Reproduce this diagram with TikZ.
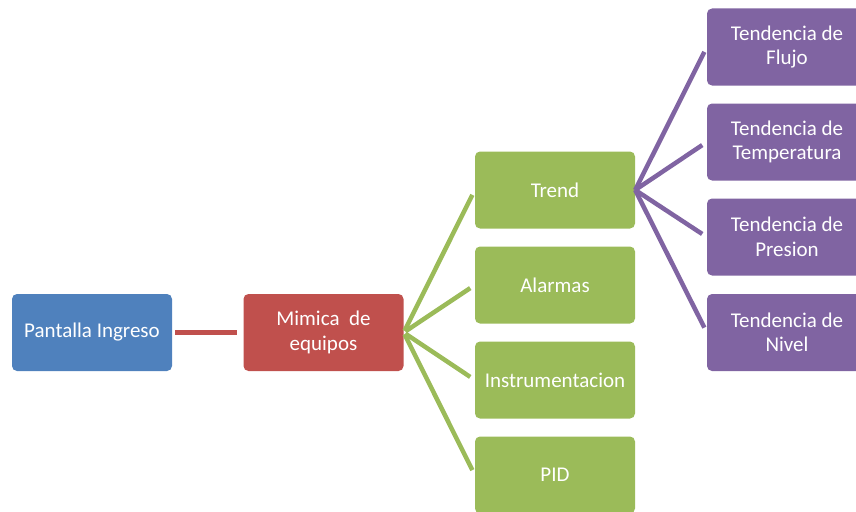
\documentclass[tikz,border=0pt]{standalone}
\usepackage{fontspec}
\setmainfont{Carlito}
\usetikzlibrary{positioning}
\definecolor{ingresoblue}{HTML}{4F81BD}
\definecolor{mimicared}{HTML}{C0504D}
\definecolor{menugreen}{HTML}{9BBB59}
\definecolor{trendpurple}{HTML}{8064A2}
\tikzset{
  box/.style={rounded corners=5pt, minimum width=160pt, minimum height=77pt, inner sep=2pt,
    align=center, text=white, font=\fontsize{21}{24.5}\selectfont},
  ingresobox/.style={box, fill=ingresoblue},
  mimicabox/.style={box, fill=mimicared},
  menubox/.style={box, fill=menugreen},
  trendbox/.style={box, fill=trendpurple},
  link/.style={line width=4.5pt, shorten <=2pt, shorten >=5.5pt}
}
\begin{document}
\begin{tikzpicture}[x=1pt, y=-1pt]
  \useasboundingbox (0,0) rectangle (856,511);
  \clip (0,0) rectangle (856,511);

  % pantallas
  \node[ingresobox] (ingreso) at (92,332.5) {Pantalla Ingreso};
  \node[mimicabox] (mimica) at (323.5,332.5) {Mimica~ de\\equipos};

  % menu de la mimica
  \node[menubox] (trend) at (555,190) {Trend};
  \node[menubox] (alarmas) at (555,285) {Alarmas};
  \node[menubox] (instr) at (555,380) {Instrumentacion};
  \node[menubox] (pid) at (555,475) {PID};

  % tendencias
  \node[trendbox] (flujo) at (787,47) {Tendencia de\\Flujo};
  \node[trendbox] (temp) at (787,142) {Tendencia de\\Temperatura};
  \node[trendbox] (presion) at (787,237) {Tendencia de\\Presion};
  \node[trendbox] (nivel) at (787,332.5) {Tendencia de\\Nivel};

  \draw[link, mimicared, shorten <=3pt, shorten >=6pt] (ingreso.east) -- (mimica.west);
  \foreach \dest in {trend, alarmas, instr, pid}
    \draw[link, menugreen] (mimica.east) -- (\dest.west);
  \foreach \dest in {flujo, temp, presion, nivel}
    \draw[link, trendpurple, shorten <=0pt] (trend.east) -- (\dest.west);
\end{tikzpicture}
\end{document}
